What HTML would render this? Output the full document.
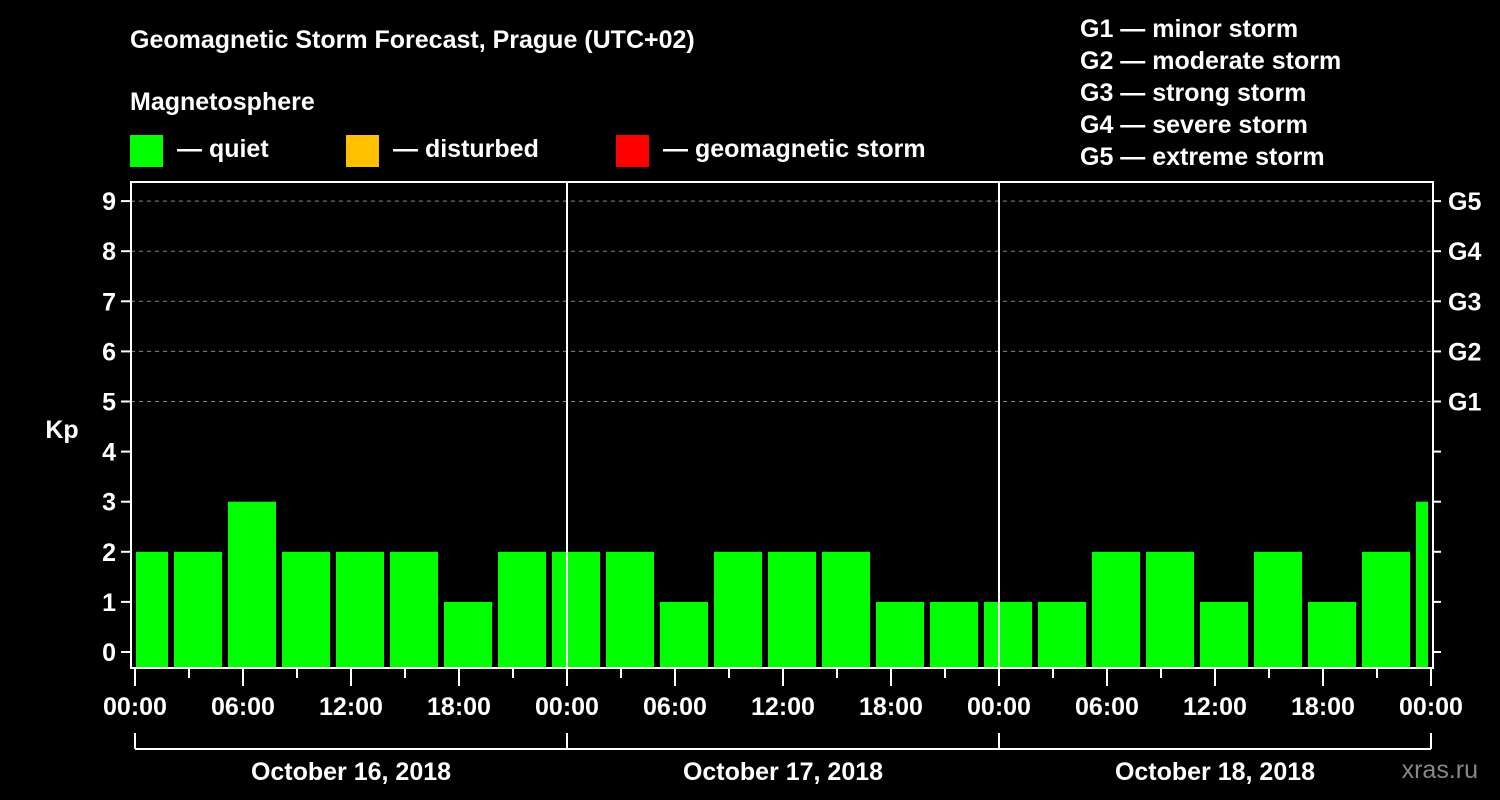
<!DOCTYPE html>
<html><head><meta charset="utf-8"><style>
html,body{margin:0;padding:0;background:#000;}
svg{display:block;font-family:"Liberation Sans",Arial,sans-serif;font-weight:bold;}
</style></head><body>
<svg id="chart" width="1500" height="800" viewBox="0 0 1500 800">
<rect x="0" y="0" width="1500" height="800" fill="#000"/>
<text x="130" y="48" fill="#fff" font-size="25">Geomagnetic Storm Forecast, Prague (UTC+02)</text>
<text x="130" y="110" fill="#fff" font-size="25">Magnetosphere</text>
<g><rect x="130" y="135" width="33" height="32" fill="#00ff00"/><text x="177" y="157" fill="#fff" font-size="25">— quiet</text></g>
<g><rect x="346" y="135" width="33" height="32" fill="#ffc000"/><text x="393" y="157" fill="#fff" font-size="25">— disturbed</text></g>
<g><rect x="616" y="135" width="33" height="32" fill="#ff0000"/><text x="663" y="157" fill="#fff" font-size="25">— geomagnetic storm</text></g>
<g fill="#fff" font-size="25">
<text x="1080" y="37">G1 — minor storm</text>
<text x="1080" y="69">G2 — moderate storm</text>
<text x="1080" y="101">G3 — strong storm</text>
<text x="1080" y="133">G4 — severe storm</text>
<text x="1080" y="165">G5 — extreme storm</text>
</g>
<text x="62" y="438" fill="#fff" font-size="25" text-anchor="middle">Kp</text>
<text x="1478" y="778" fill="#888" font-size="25" text-anchor="end" font-weight="normal">xras.ru</text>
<g id="plot"></g>
</svg>
<script>
const kpValues = [2,2,3,2,2,2,1,2,2,2,1,2,2,2,1,1,1,1,2,2,1,2,1,2,3];
const yTicks = [0,1,2,3,4,5,6,7,8,9];
const gLabels = ["G1","G2","G3","G4","G5"];
const gLevels = [5,6,7,8,9];
const hourLabels = ["00:00","06:00","12:00","18:00"];
const dayLabels = ["October 16, 2018","October 17, 2018","October 18, 2018"];
const firstBarStartHour = -1; // local time of first 3h interval start
const NS="http://www.w3.org/2000/svg";
const plot=document.getElementById('plot');
const L=131,R=1433,T=182,B=668,X0=135,PXH=18;
const xs=h=>X0+h*PXH;
const ys=v=>652-v*50.1;
function mk(tag,attrs,parent){const e=document.createElementNS(NS,tag);for(const k in attrs)e.setAttribute(k,attrs[k]);(parent||plot).appendChild(e);return e;}
// grid
gLevels.forEach((v,i)=>{
 const l=mk('line',{x1:L,x2:R,y1:ys(v),y2:ys(v),stroke:'#888','stroke-dasharray':'4,4','stroke-width':1});
 
 
 const t=mk('text',{x:1448,y:ys(v)+9,fill:'#fff','font-size':25});
 t.textContent=gLabels[i];
 
 
});
// bars
kpValues.forEach((v,i)=>{
 let a=xs(firstBarStartHour+i*3)+3, b=xs(firstBarStartHour+i*3+3)-3;
 a=Math.max(a,L+5); b=Math.min(b,R-5);
 const r=mk('rect',{x:a,y:ys(v),width:b-a,height:B-ys(v),fill:'#00ff00'});
 
 
});
// day separators
for(let d=1;d<dayLabels.length;d++){
 const l=mk('line',{x1:xs(d*24),x2:xs(d*24),y1:T,y2:B,stroke:'#fff','stroke-width':2});
 
 
}
// frame
const f=mk('rect',{x:L,y:T,width:R-L,height:B-T,fill:'none',stroke:'#fff','stroke-width':2});


// y ticks
yTicks.forEach(v=>{
 mk('line',{x1:121,x2:L,y1:ys(v),y2:ys(v),stroke:'#fff','stroke-width':2});
 mk('line',{x1:R,x2:1441,y1:ys(v),y2:ys(v),stroke:'#fff','stroke-width':2});
 const t=mk('text',{x:116,y:ys(v)+9,fill:'#fff','font-size':25,'text-anchor':'end'});
 t.textContent=v;
 
 
});
// x ticks
const totalH=dayLabels.length*24;
for(let h=0;h<=totalH;h+=3){
 const major=h%6===0;
 mk('line',{x1:xs(h),x2:xs(h),y1:B,y2:major?686:678,stroke:'#fff','stroke-width':2});
 if(major){
  const t=mk('text',{x:xs(h),y:715,fill:'#fff','font-size':25,'text-anchor':'middle'});
  t.textContent=hourLabels[(h/6)%4];
  
  
 }
}
// day brackets
mk('line',{x1:xs(0),x2:xs(totalH),y1:749,y2:749,stroke:'#fff','stroke-width':2});
for(let d=0;d<=dayLabels.length;d++) mk('line',{x1:xs(d*24),x2:xs(d*24),y1:733,y2:749,stroke:'#fff','stroke-width':2});
dayLabels.forEach((s,d)=>{
 const t=mk('text',{x:xs(d*24+12),y:780,fill:'#fff','font-size':25,'text-anchor':'middle'});
 t.textContent=s;
 
 
});
</script>
</body></html>
